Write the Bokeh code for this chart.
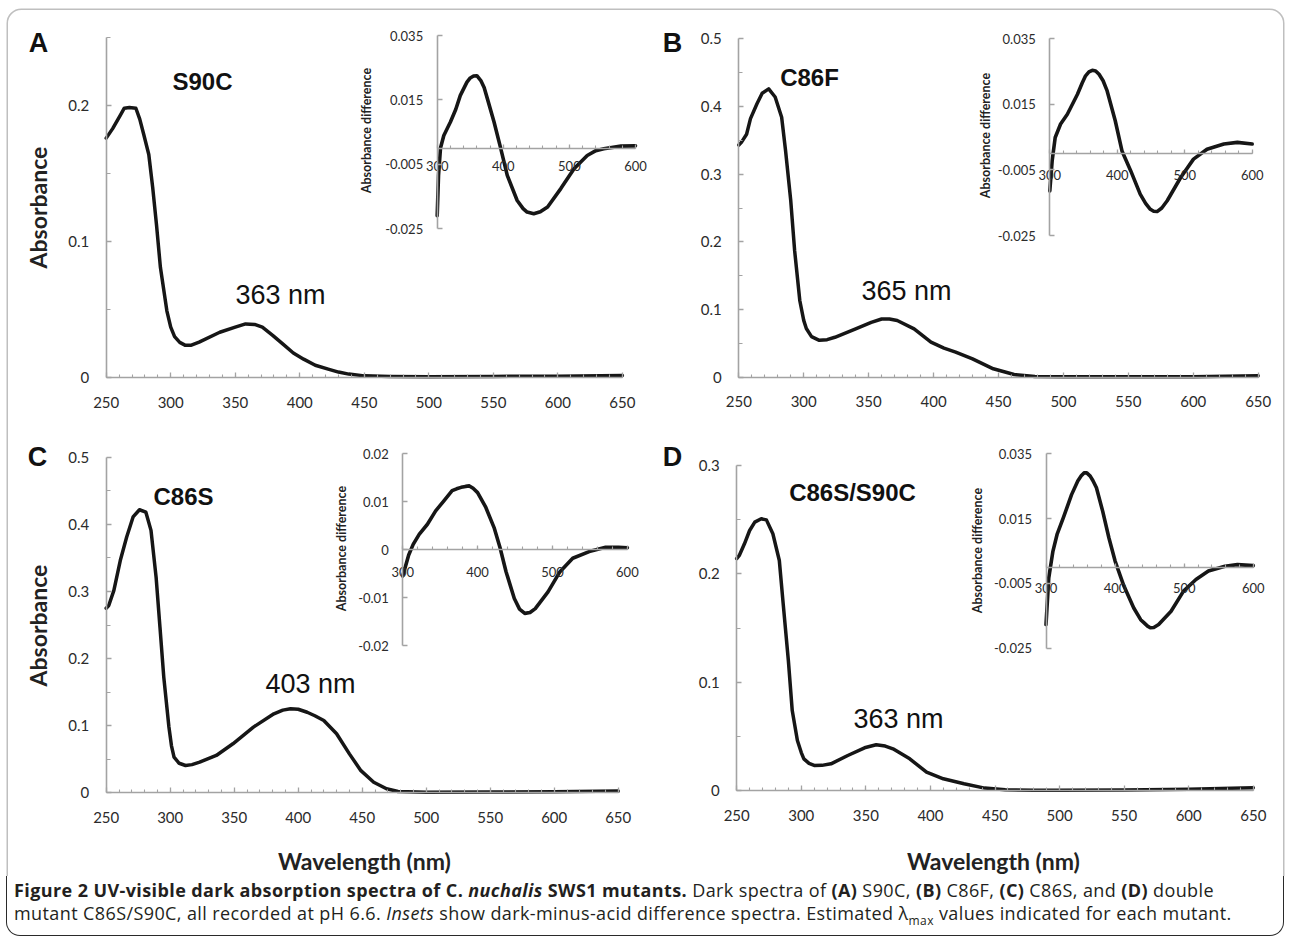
import math
from bokeh.plotting import figure
from bokeh.models import (Range1d, LinearAxis, SingleIntervalTicker, FixedTicker,
                          CustomJSTickFormatter, Label, BoxAnnotation, Div)
from bokeh.layouts import column
from bokeh.embed import file_html
from bokeh.resources import INLINE

# ---------------- data ----------------
A_wl = [250, 255, 261, 264, 268, 273, 276, 279, 283, 286, 289, 292, 297, 300, 303, 307, 311, 316, 322,
        338, 350, 358, 365, 371, 379, 387, 395, 403, 412, 422, 430, 438, 450, 470, 500, 550, 600, 650]
A_abs = [0.176, 0.183, 0.193, 0.198, 0.1985, 0.198, 0.19, 0.179, 0.164, 0.14, 0.112, 0.081, 0.049, 0.037,
         0.030, 0.0258, 0.0238, 0.0238, 0.026, 0.0333, 0.037, 0.0394, 0.039, 0.037, 0.031, 0.0245, 0.018,
         0.0135, 0.009, 0.0062, 0.004, 0.0025, 0.0012, 0.0008, 0.0006, 0.0008, 0.001, 0.0015]

B_wl = [250, 252, 256, 259, 264, 268, 273, 278, 283, 286, 290, 293, 297, 300, 302, 306, 312, 318, 324,
        340, 352, 360, 366, 372, 385, 398, 408, 417, 430, 446, 462, 478, 500, 550, 600, 650]
B_abs = [0.343, 0.347, 0.359, 0.382, 0.404, 0.4195, 0.426, 0.414, 0.384, 0.335, 0.261, 0.187, 0.113,
         0.084, 0.072, 0.06, 0.0545, 0.0555, 0.059, 0.0715, 0.081, 0.086, 0.086, 0.0837, 0.0715, 0.0517,
         0.043, 0.037, 0.027, 0.0124, 0.004, 0.001, 0.0005, 0.0005, 0.0008, 0.002]

C_wl = [250, 252, 256, 261, 266, 271, 276, 281, 285, 289, 292, 295, 299, 301, 303, 307, 312, 317, 323,
        336, 349, 365, 381, 388, 394, 400, 407, 413, 420, 430, 440, 449, 459, 469, 478, 500, 550, 600, 650]
C_abs = [0.275, 0.279, 0.3015, 0.346, 0.381, 0.411, 0.4217, 0.418, 0.391, 0.321, 0.247, 0.172, 0.098,
         0.07, 0.053, 0.044, 0.0407, 0.042, 0.0456, 0.0556, 0.073, 0.0978, 0.1177, 0.1232, 0.1252, 0.1245,
         0.12, 0.1148, 0.1078, 0.088, 0.058, 0.033, 0.0158, 0.006, 0.002, 0.001, 0.0012, 0.0015, 0.0025]

D_wl = [250, 252, 256, 260, 264, 269, 273, 278, 283, 286, 290, 293, 297, 300, 302, 306, 310, 316, 323,
        336, 349, 358, 365, 371, 384, 397, 410, 426, 442, 458, 480, 500, 550, 600, 650]
D_abs = [0.214, 0.217, 0.2277, 0.24, 0.2477, 0.2508, 0.2498, 0.237, 0.2123, 0.1723, 0.12, 0.0738, 0.0462,
         0.035, 0.0292, 0.025, 0.0231, 0.0232, 0.0246, 0.0323, 0.0394, 0.0422, 0.041, 0.0385, 0.0292,
         0.0169, 0.0108, 0.0062, 0.0022, 0.0006, 0.0003, 0.0003, 0.0005, 0.0012, 0.0025]

iA_wl = [300, 302, 305, 310, 320, 328, 335, 345, 350, 355, 360, 366, 371, 376, 386, 396, 406, 421, 430,
         436, 446, 456, 467, 487, 507, 527, 540, 552, 578, 600]
iA_diff = [-0.021, -0.0085, 0.0, 0.0039, 0.0081, 0.012, 0.0164, 0.0205, 0.0218, 0.0224, 0.0225, 0.021,
           0.0188, 0.0153, 0.0081, 0.0, -0.0085, -0.0163, -0.0188, -0.0199, -0.0204, -0.0198, -0.0183,
           -0.0126, -0.0064, -0.0023, -0.0008, -0.0002, 0.0006, 0.0007]

iB_wl = [300, 303.5, 308, 316, 326, 341, 348, 353, 358, 363, 368, 373, 379, 385, 397, 407, 420, 434, 442,
         449, 454, 459, 466, 474, 494, 513, 533, 558, 578, 600]
iB_diff = [-0.0114, -0.0022, 0.0049, 0.009, 0.012, 0.0181, 0.0215, 0.0237, 0.0249, 0.0254, 0.0252, 0.0242,
           0.0222, 0.0191, 0.01, 0.0008, -0.0053, -0.0124, -0.0152, -0.017, -0.0176, -0.0177, -0.0166,
           -0.0144, -0.0073, -0.0017, 0.0013, 0.0029, 0.0034, 0.0029]

iC_wl = [300, 303, 308, 314, 322, 333, 344, 355, 366, 372, 378, 384, 389, 394, 400, 411, 422, 430, 438,
         449, 456, 463, 470, 477, 494, 510, 527, 549, 571, 588, 600]
iC_diff = [-0.0055, -0.0039, -0.0011, 0.0011, 0.0032, 0.0053, 0.0081, 0.0102, 0.0123, 0.0127, 0.013,
           0.0132, 0.0133, 0.0128, 0.0119, 0.0088, 0.0046, 0.0004, -0.0046, -0.0102, -0.0124, -0.0133,
           -0.0131, -0.0123, -0.0088, -0.0046, -0.0018, -0.0004, 0.0005, 0.0005, 0.0004]

iD_wl = [300, 304, 310, 316, 325, 337, 346, 351, 355, 359, 364, 368, 373, 382, 391, 400, 412, 427, 437,
         442, 447, 451, 456, 463, 481, 499, 517, 535, 559, 577, 600]
iD_diff = [-0.0177, -0.0033, 0.0049, 0.0101, 0.0152, 0.0224, 0.0266, 0.0282, 0.0291, 0.0291, 0.0281,
           0.0267, 0.0245, 0.0173, 0.0091, 0.0019, -0.0054, -0.0126, -0.0162, -0.0172, -0.0182, -0.0187,
           -0.0186, -0.0177, -0.0136, -0.0074, -0.0038, -0.0012, 0.0003, 0.0008, 0.0005]

panel_letters = ["A", "B", "C", "D"]
mutants = ["S90C", "C86F", "C86S", "C86S/S90C"]
lambda_labels = ["363 nm", "365 nm", "403 nm", "363 nm"]
main_x_ticks_interval = 50
main_y_ticks = {"A": [0, 0.1, 0.2], "B": [0, 0.1, 0.2, 0.3, 0.4, 0.5],
                "C": [0, 0.1, 0.2, 0.3, 0.4, 0.5], "D": [0, 0.1, 0.2, 0.3]}
main_y_minor = {"A": [0.05, 0.15, 0.25], "B": [0.05, 0.15, 0.25, 0.35, 0.45],
                "C": [0.05, 0.15, 0.25, 0.35, 0.45], "D": [0.05, 0.15, 0.25]}
main_y_top = {"A": 0.25, "B": 0.5, "C": 0.5, "D": 0.3}
inset_x_ticks = [300, 400, 500, 600]
inset_x_minor = list(range(300, 601, 20))
inset_y_ticks_035 = [-0.025, -0.005, 0.015, 0.035]
inset_y_ticks_02 = [-0.02, -0.01, 0.0, 0.01, 0.02]

# ---------------- canvas (coordinates = page pixels) ----------------
W, H = 1288, 876
X0, X1, Y0, Y1 = 0, W, 0, H

p = figure(width=W, height=H, x_range=Range1d(X0, X1), y_range=Range1d(Y1, Y0),
           x_axis_type=None, y_axis_type=None, toolbar_location=None,
           output_backend="svg", min_border=0)
p.outline_line_color = None
p.background_fill_color = "white"
p.border_fill_color = "white"


def xmap(v0, p0, v1, p1):
    k = (p1 - p0) / (v1 - v0)
    return Range1d(start=v0 + (X0 - p0) / k, end=v0 + (X1 - p0) / k)


def ymap(v0, p0, v1, p1):
    k = (p0 - p1) / (v1 - v0)
    return Range1d(start=v0 + (p0 - Y1) / k, end=v0 + (p0 - Y0) / k)


fmt_code = "return String(Number(tick.toFixed(4)));"
AX = "#a3a3a3"
TXT = "#2b2b2b"
CURVE = "#161616"

xr, yr = {}, {}


def style_axis(ax, font_size, standoff, tick_in, minor_in):
    ax.axis_line_color = AX
    ax.axis_line_width = 1.6
    ax.major_tick_line_color = AX
    ax.minor_tick_line_color = AX
    ax.major_tick_line_width = 1.3
    ax.minor_tick_line_width = 1.1
    ax.major_tick_in = tick_in
    ax.major_tick_out = 0
    ax.minor_tick_in = minor_in
    ax.minor_tick_out = 0
    ax.major_label_text_font = "Lato"
    ax.major_label_text_font_size = f"{font_size}px"
    ax.major_label_text_color = TXT
    ax.major_label_standoff = standoff


def add_frame(name, xspec, yspec, xbounds, ybounds, xticker, yticker, xloc, yloc,
              xfs, yfs, xstand, ystand, xtin, xmin_in, ytin, ymin_in):
    xr[name + "x"] = xmap(*xspec)
    yr[name + "y"] = ymap(*yspec)
    xa = LinearAxis(x_range_name=name + "x", y_range_name=name + "y", fixed_location=xloc,
                    bounds=xbounds, ticker=xticker, formatter=CustomJSTickFormatter(code=fmt_code))
    style_axis(xa, xfs, xstand, xtin, xmin_in)
    p.add_layout(xa, "below")
    ya = LinearAxis(x_range_name=name + "x", y_range_name=name + "y", fixed_location=yloc,
                    bounds=ybounds, ticker=yticker, formatter=CustomJSTickFormatter(code=fmt_code))
    style_axis(ya, yfs, ystand, ytin, ymin_in)
    p.add_layout(ya, "left")


# panel placement on the page: value->pixel pairs for x and y
main_geo = {
    "A": ((250, 105.7, 650, 621.9), (0, 377.0, 0.25, 37.0)),
    "B": ((250, 738.3, 650, 1257.7), (0, 376.7, 0.5, 38.3)),
    "C": ((250, 105.7, 650, 617.7), (0, 792.3, 0.5, 456.7)),
    "D": ((250, 736.2, 650, 1252.8), (0, 790.0, 0.3, 465.0)),
}
inset_geo = {
    "A": ((300, 436.7, 600, 635.0), (-0.025, 228.0, 0.035, 35.0), (-0.025, 0.035), inset_y_ticks_035, 13),
    "B": ((300, 1049.3, 600, 1251.7), (-0.025, 235.0, 0.035, 38.3), (-0.025, 0.035), inset_y_ticks_035, 16),
    "C": ((300, 402.2, 600, 626.9), (-0.02, 645.0, 0.02, 453.3), (-0.02, 0.02), inset_y_ticks_02, 17),
    "D": ((300, 1045.5, 600, 1252.8), (-0.025, 647.7, 0.035, 453.3), (-0.025, 0.035), inset_y_ticks_035, 16),
}

for L in panel_letters:
    xs, ys = main_geo[L]
    add_frame("m" + L, xs, ys, (250, 650), (0, main_y_top[L]),
              SingleIntervalTicker(interval=main_x_ticks_interval, num_minor_ticks=5),
              FixedTicker(ticks=main_y_ticks[L], minor_ticks=main_y_minor[L]),
              0, 250, 15, 15, 19, 17, 5, 3, 5, 4)
    xs, ys, yb, yt, xst = inset_geo[L]
    add_frame("i" + L, xs, ys, (300, 600), yb,
              FixedTicker(ticks=inset_x_ticks, minor_ticks=inset_x_minor),
              FixedTicker(ticks=yt),
              0, 300, 13, 13, xst, 14, 4, 3, 5, 0)

p.extra_x_ranges = xr
p.extra_y_ranges = yr

series = {"A": (A_wl, A_abs, iA_wl, iA_diff), "B": (B_wl, B_abs, iB_wl, iB_diff),
          "C": (C_wl, C_abs, iC_wl, iC_diff), "D": (D_wl, D_abs, iD_wl, iD_diff)}
for L in panel_letters:
    wl, ab, iwl, idf = series[L]
    p.line(wl, ab, x_range_name="m" + L + "x", y_range_name="m" + L + "y",
           line_color=CURVE, line_width=3.5, line_join="round", line_cap="round")
    p.line(iwl, idf, x_range_name="i" + L + "x", y_range_name="i" + L + "y",
           line_color=CURVE, line_width=3.6, line_join="round", line_cap="round")

# ---------------- texts ----------------
letter_pos = {"A": (38, 42), "B": (672, 42), "C": (37, 456), "D": (672, 456)}
mut_pos = {"A": (202, 81), "B": (809, 77), "C": (183, 496), "D": (852, 492)}
lam_pos = {"A": (280, 294), "B": (906, 290), "C": (310, 683), "D": (898, 718)}
idiff_pos = {"A": (366, 130), "B": (985, 135), "C": (341, 548), "D": (977, 550)}

for i, L in enumerate(panel_letters):
    x, y = letter_pos[L]
    p.add_layout(Label(x=x, y=y, text=L, text_font="Liberation Sans", text_font_style="bold",
                       text_font_size="27px", text_color="#111", text_align="center",
                       text_baseline="middle"))
    x, y = mut_pos[L]
    p.add_layout(Label(x=x, y=y, text=mutants[i], text_font="Liberation Sans", text_font_style="bold",
                       text_font_size="24px", text_color="#111", text_align="center",
                       text_baseline="middle"))
    x, y = lam_pos[L]
    p.add_layout(Label(x=x, y=y, text=lambda_labels[i], text_font="Liberation Sans",
                       text_font_size="27px", text_color="#111", text_align="center",
                       text_baseline="middle"))
    x, y = idiff_pos[L]
    p.add_layout(Label(x=x, y=y, text="Absorbance difference", text_font="Lato", text_font_style="bold",
                       text_font_size="12.5px", text_color="#222", text_align="center",
                       text_baseline="middle", angle=math.pi / 2))

for (x, y) in [(37, 207), (37, 625)]:
    p.add_layout(Label(x=x, y=y, text="Absorbance", text_font="Lato", text_font_style="bold",
                       text_font_size="23px", text_color="#222", text_align="center",
                       text_baseline="middle", angle=math.pi / 2))
for (x, y) in [(364, 860), (993, 860)]:
    p.add_layout(Label(x=x, y=y, text="Wavelength (nm)", text_font="Lato", text_font_style="bold",
                       text_font_size="23px", text_color="#222", text_align="center",
                       text_baseline="middle"))

# rounded frame (top and sides; the caption box closes it)
p.add_layout(BoxAnnotation(left=6.75, right=1283.25, top=8.75, bottom=H + 40,
                           fill_color=None, line_color="#2a2a2a", line_width=1.5,
                           border_radius=14))

caption_html = (
    "<b>Figure 2 UV-visible dark absorption spectra of C. <i>nuchalis</i> SWS1 mutants.</b> "
    "Dark spectra of <b>(A)</b> S90C, <b>(B)</b> C86F, <b>(C)</b> C86S, and <b>(D)</b> double<br>"
    "mutant C86S/S90C, all recorded at pH 6.6. <i>Insets</i> show dark-minus-acid difference spectra. "
    "Estimated &lambda;<sub style='font-size:12px'>max</sub> values indicated for each mutant."
)
cap = Div(text=caption_html, width=1278, height=60, margin=(0, 0, 0, 6),
          styles={"border-left": "1.5px solid #2a2a2a", "border-right": "1.5px solid #2a2a2a",
                  "border-bottom": "1.5px solid #2a2a2a", "border-radius": "0 0 14px 14px",
                  "box-sizing": "border-box", "padding": "3px 0 0 7px",
                  "font-family": "'Open Sans'", "font-size": "18px", "line-height": "22.5px",
                  "letter-spacing": "0.4px",
                  "color": "#231f20", "white-space": "nowrap", "background": "white"})

layout = column(p, cap, spacing=0)
open("out.html", "w").write(file_html(layout, INLINE))
